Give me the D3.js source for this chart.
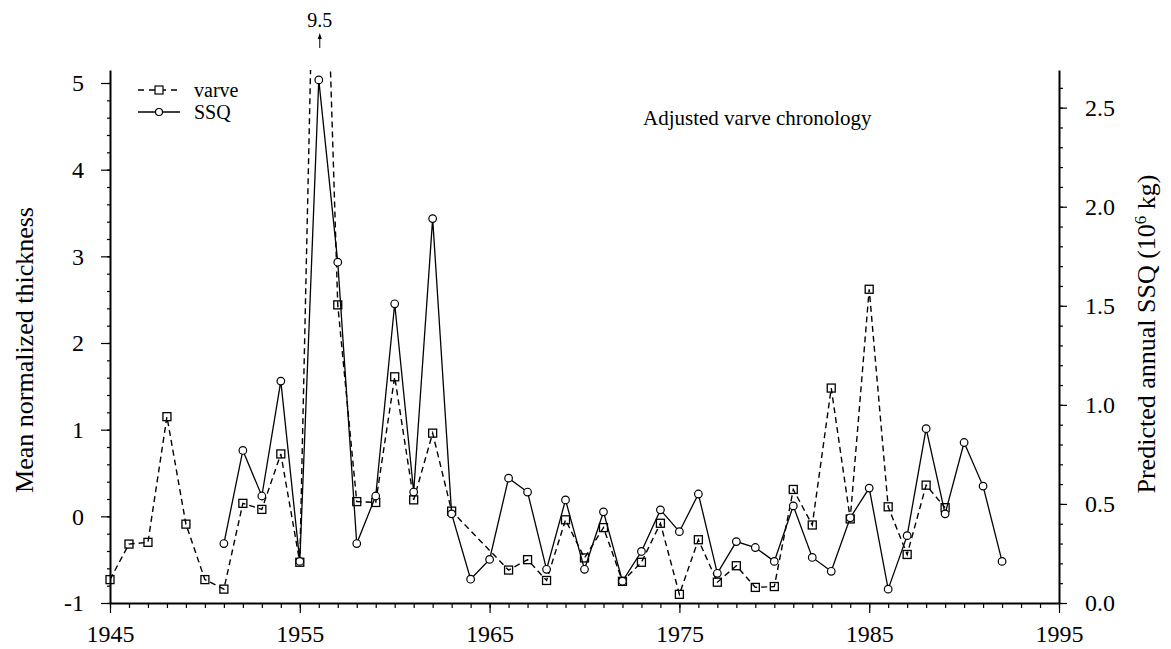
<!DOCTYPE html>
<html>
<head>
<meta charset="utf-8">
<script src="https://cdn.jsdelivr.net/npm/d3@7"></script>
<style>
  body { margin: 0; background: #fff; }
  svg text { font-family: "Liberation Serif", "Times New Roman", serif; fill: #000; }
</style>
</head>
<body>
<div id="chart"></div>
<script>
// varve thickness (left axis); 1964-65 missing, 1956 is off scale (9.5)
var varveYears = [1945, 1946, 1947, 1948, 1949, 1950, 1951, 1952, 1953, 1954, 1955, 1956, 1957, 1958, 1959, 1960, 1961, 1962, 1963,
  1966, 1967, 1968, 1969, 1970, 1971, 1972, 1973, 1974, 1975, 1976, 1977, 1978, 1979, 1980, 1981, 1982, 1983, 1984, 1985, 1986, 1987, 1988, 1989];
var varveValues = [-0.73, -0.32, -0.30, 1.15, -0.09, -0.73, -0.84, 0.15, 0.08, 0.72, -0.53, 9.5, 2.44, 0.17, 0.16, 1.61, 0.19, 0.96, 0.06,
  -0.62, -0.50, -0.74, -0.04, -0.48, -0.13, -0.75, -0.53, -0.08, -0.90, -0.27, -0.76, -0.57, -0.82, -0.81, 0.31, -0.10, 1.48, -0.03, 2.62, 0.11, -0.44, 0.36, 0.10];

// predicted SSQ, 10^6 kg (right axis)
var ssqYears = [1951, 1952, 1953, 1954, 1955, 1956, 1957, 1958, 1959, 1960, 1961, 1962, 1963, 1964, 1965, 1966, 1967, 1968, 1969, 1970, 1971,
  1972, 1973, 1974, 1975, 1976, 1977, 1978, 1979, 1980, 1981, 1982, 1983, 1984, 1985, 1986, 1987, 1988, 1989, 1990, 1991, 1992];
var ssqValues = [0.30, 0.77, 0.54, 1.12, 0.21, 2.64, 1.72, 0.30, 0.54, 1.51, 0.56, 1.94, 0.45, 0.12, 0.22, 0.63, 0.56, 0.17, 0.52, 0.17, 0.46,
  0.11, 0.26, 0.47, 0.36, 0.55, 0.15, 0.31, 0.28, 0.21, 0.49, 0.23, 0.16, 0.43, 0.58, 0.07, 0.34, 0.88, 0.45, 0.81, 0.59, 0.21];

var xTicks = [1945, 1955, 1965, 1975, 1985, 1995];
var leftTicks = [-1, 0, 1, 2, 3, 4, 5];
var rightTicks = [0, 0.5, 1.0, 1.5, 2.0, 2.5];

var svgWidth = 1171, svgHeight = 649;
var plotLeft = 110, plotRight = 1059, plotTop = 70, plotBottom = 603;

var svg = d3.select("#chart").append("svg")
    .attr("width", svgWidth)
    .attr("height", svgHeight);

var xScale = d3.scaleLinear().domain([1945, 1995]).range([plotLeft, plotRight]);
var yLeft = d3.scaleLinear().domain([-1, 5.15]).range([plotBottom, plotTop]);
var yRight = d3.scaleLinear().domain([0, 2.69]).range([plotBottom, plotTop]);

svg.append("clipPath").attr("id", "plotclip")
  .append("rect")
    .attr("x", plotLeft).attr("y", plotTop)
    .attr("width", plotRight - plotLeft).attr("height", plotBottom - plotTop);

// minor ticks
svg.append("g")
    .attr("class", "minor")
    .attr("transform", "translate(0," + plotBottom + ")")
    .call(d3.axisBottom(xScale).tickValues(d3.range(1945, 1996)).tickSize(5).tickFormat(""));
svg.append("g")
    .attr("class", "minor")
    .attr("transform", "translate(" + plotLeft + ",0)")
    .call(d3.axisLeft(yLeft).tickValues(d3.range(-1, 5.01, 0.2)).tickSize(3).tickFormat(""));
svg.append("g")
    .attr("class", "minor")
    .attr("transform", "translate(" + plotRight + ",0)")
    .call(d3.axisRight(yRight).tickValues(d3.range(0, 2.61, 0.1)).tickSize(4).tickFormat(""));
svg.selectAll(".minor .domain").remove();

// X axis
svg.append("g")
    .attr("transform", "translate(0," + plotBottom + ")")
    .call(d3.axisBottom(xScale).tickValues(xTicks).tickSize(10).tickSizeOuter(0).tickPadding(12).tickFormat(d3.format("d")));

// left axis
svg.append("g")
    .attr("transform", "translate(" + plotLeft + ",0)")
    .call(d3.axisLeft(yLeft).tickValues(leftTicks).tickSize(9).tickSizeOuter(0).tickPadding(17).tickFormat(function(d) { return String(d); }));

// right axis
svg.append("g")
    .attr("transform", "translate(" + plotRight + ",0)")
    .call(d3.axisRight(yRight).tickValues(rightTicks).tickSize(8).tickSizeOuter(0).tickPadding(18).tickFormat(d3.format(".1f")));

svg.selectAll(".domain").attr("stroke", "#000").attr("stroke-width", 2);
svg.selectAll(".tick line").attr("stroke", "#000").attr("stroke-width", 1.2);
svg.selectAll(".tick text").style("font-size", "24px").style("font-family", "Liberation Serif, serif");

// varve line (dashed, squares)
var lineL = d3.line()
    .x(function(d, i) { return xScale(varveYears[i]); })
    .y(function(d) { return yLeft(d); });

svg.append("path")
    .datum(varveValues)
    .attr("clip-path", "url(#plotclip)")
    .attr("d", lineL)
    .attr("fill", "none")
    .attr("stroke", "#000")
    .attr("stroke-width", 1.4)
    .attr("stroke-dasharray", "6,4");

svg.selectAll(".sq")
    .data(varveValues.map(function(v, i) { return {x: varveYears[i], y: v}; }).filter(function(d) { return d.y < 5.15; }))
  .enter().append("rect")
    .attr("class", "sq")
    .attr("x", function(d) { return xScale(d.x) - 4; })
    .attr("y", function(d) { return yLeft(d.y) - 4; })
    .attr("width", 8)
    .attr("height", 8)
    .attr("fill", "none")
    .attr("stroke", "#000")
    .attr("stroke-width", 1.3);

// SSQ line (solid, circles)
var lineR = d3.line()
    .x(function(d, i) { return xScale(ssqYears[i]); })
    .y(function(d) { return yRight(d); });

svg.append("path")
    .datum(ssqValues)
    .attr("d", lineR)
    .attr("fill", "none")
    .attr("stroke", "#000")
    .attr("stroke-width", 1.3);

svg.selectAll(".ci")
    .data(ssqValues)
  .enter().append("circle")
    .attr("class", "ci")
    .attr("cx", function(d, i) { return xScale(ssqYears[i]); })
    .attr("cy", function(d) { return yRight(d); })
    .attr("r", 3.8)
    .attr("fill", "#fff")
    .attr("stroke", "#000")
    .attr("stroke-width", 1.2);

// off-scale marker for 1956
var peakX = xScale(varveYears[11]) + 1;
svg.append("text")
    .attr("x", peakX)
    .attr("y", 27)
    .attr("text-anchor", "middle")
    .style("font-size", "20px")
    .text(String(varveValues[11]));
svg.append("line")
    .attr("x1", peakX).attr("x2", peakX)
    .attr("y1", 48).attr("y2", 36)
    .attr("stroke", "#000").attr("stroke-width", 1);
svg.append("path")
    .attr("d", "M" + (peakX - 2) + ",39L" + peakX + ",33L" + (peakX + 2) + ",39Z")
    .attr("fill", "#000");

// legend
svg.append("line")
    .attr("x1", 138).attr("x2", 180).attr("y1", 90).attr("y2", 90)
    .attr("stroke", "#000").attr("stroke-width", 1.3).attr("stroke-dasharray", "6,5");
svg.append("rect")
    .attr("x", 155).attr("y", 86).attr("width", 8).attr("height", 8)
    .attr("fill", "#fff").attr("stroke", "#000").attr("stroke-width", 1.2);
svg.append("text").attr("x", 194).attr("y", 97).style("font-size", "20px").text("varve");

svg.append("line")
    .attr("x1", 138).attr("x2", 180).attr("y1", 112).attr("y2", 112)
    .attr("stroke", "#000").attr("stroke-width", 1.3);
svg.append("circle")
    .attr("cx", 159).attr("cy", 112).attr("r", 3.5)
    .attr("fill", "#fff").attr("stroke", "#000").attr("stroke-width", 1.2);
svg.append("text").attr("x", 194).attr("y", 119).style("font-size", "20px").text("SSQ");

// title
svg.append("text")
    .attr("x", 643)
    .attr("y", 125)
    .style("font-size", "21px")
    .text("Adjusted varve chronology");

// axis titles
svg.append("text")
    .attr("transform", "translate(33,350) rotate(-90)")
    .attr("text-anchor", "middle")
    .style("font-size", "26px")
    .text("Mean normalized thickness");

var rt = svg.append("text")
    .attr("transform", "translate(1155,334) rotate(-90)")
    .attr("text-anchor", "middle")
    .style("font-size", "26px");
rt.append("tspan").text("Predicted annual SSQ  (10");
rt.append("tspan").attr("dy", -9).style("font-size", "17px").text("6");
rt.append("tspan").attr("dy", 9).text(" kg)");
</script>
</body>
</html>
